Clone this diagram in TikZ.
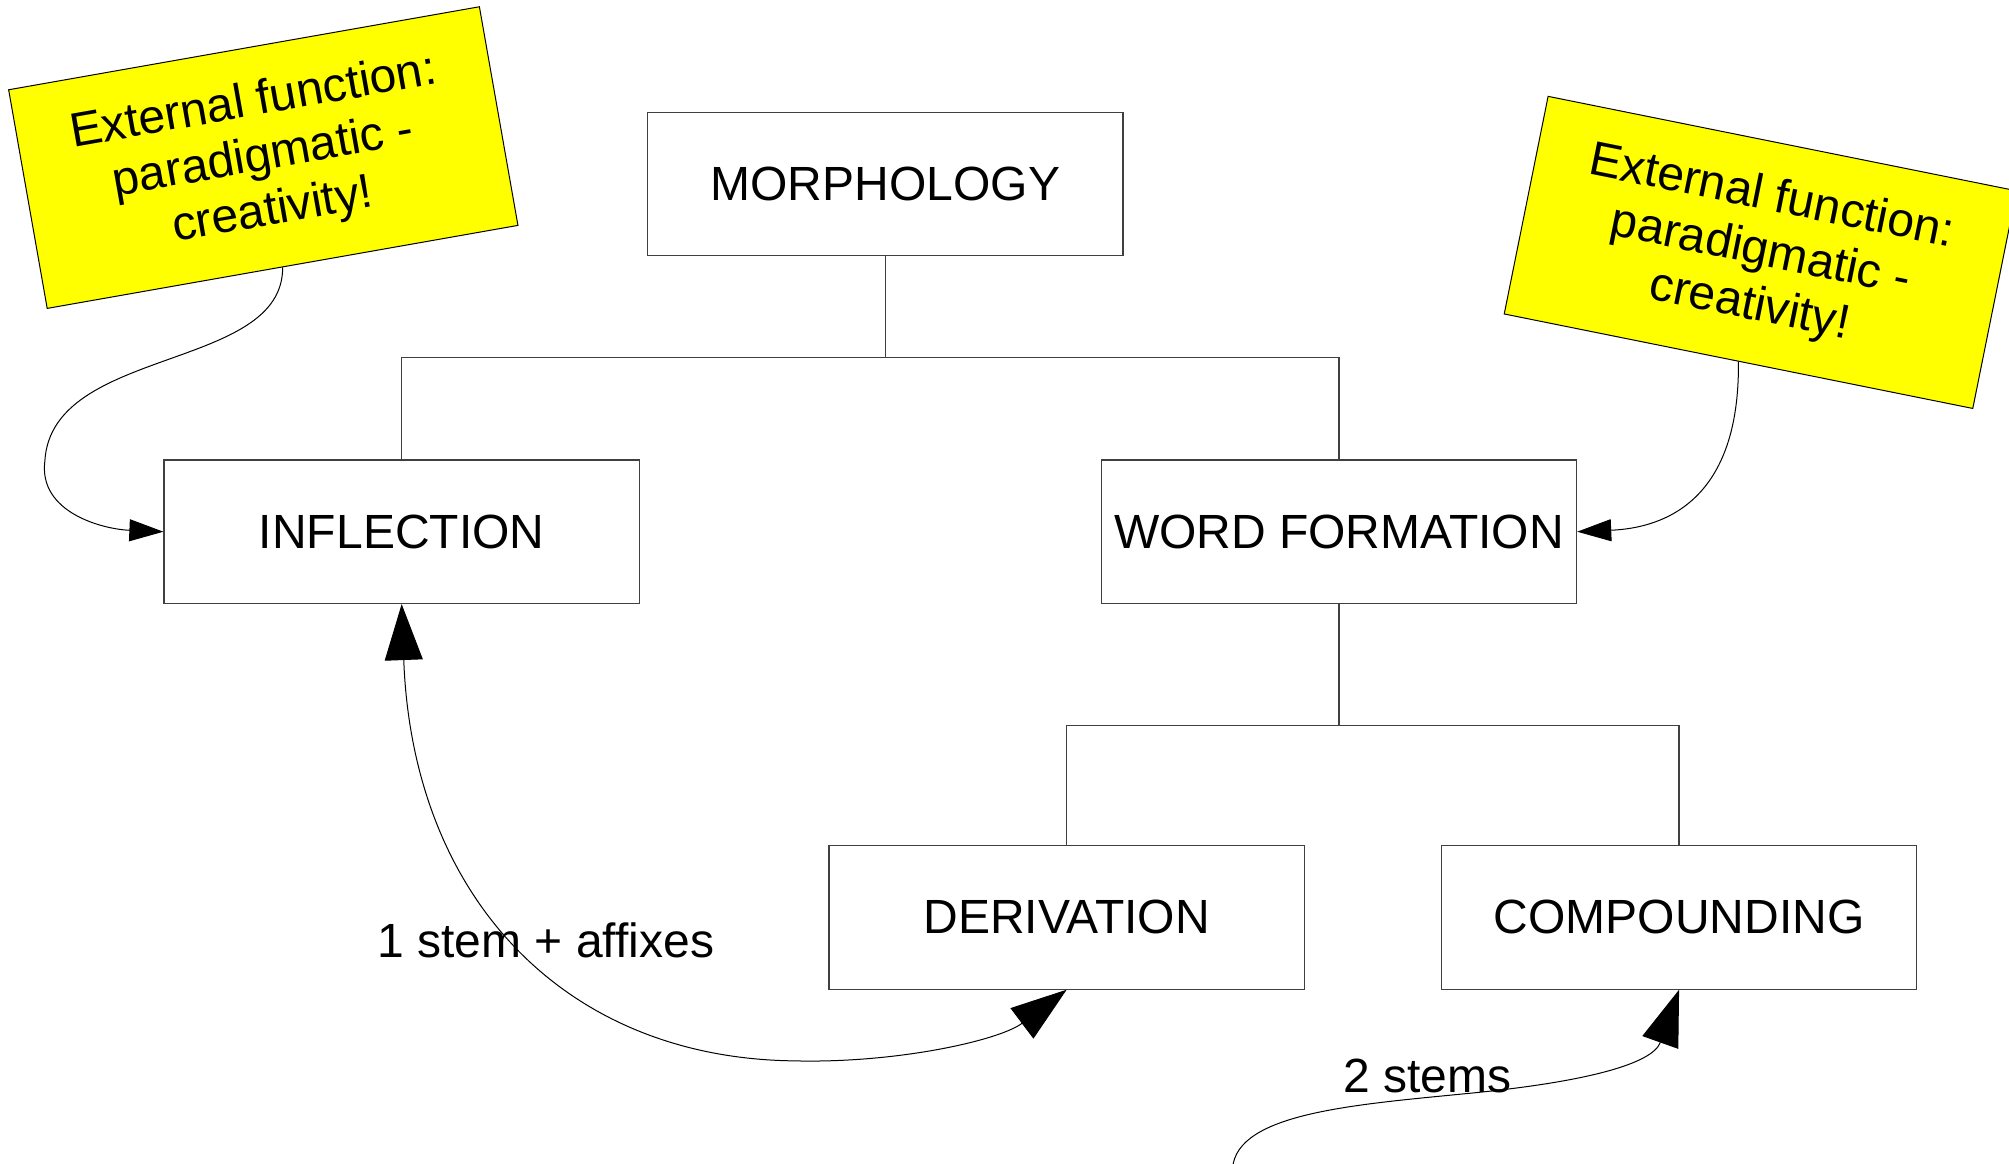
\documentclass[tikz,border=0pt]{standalone}
\usepackage{fontspec}
\setmainfont{Liberation Sans}
\usetikzlibrary{arrows.meta}
\definecolor{noteyellow}{RGB}{255,255,0}
\begin{document}
\begin{tikzpicture}[x=0.640625pt,y=-0.640625pt,
  txt/.style={font=\fontsize{24}{27.6}\selectfont, inner sep=0pt, align=center},
  cat/.style={txt, draw=black!75, line width=0.6pt, fill=white, minimum width=237.7pt, minimum height=71.75pt},
  note/.style={txt, draw=black, line width=0.5pt, fill=noteyellow, minimum width=239pt, minimum height=111pt},
  link/.style={draw=black, line width=0.5pt},
  tree/.style={draw=black!75, line width=0.6pt},
  smallhead/.style={-{Triangle[length=17pt,width=11pt]}},
  bighead/.style={-{Triangle[length=28pt,width=19pt]}},
  bothbig/.style={{Triangle[length=28pt,width=19pt]}-{Triangle[length=28pt,width=19pt]}}
]
\fill[white] (0,0) rectangle (1568,908);
\useasboundingbox (0,0) rectangle (1568,908);

% category boxes
\node[cat] (morph) at (691,143.5) {MORPHOLOGY};
\node[cat] (infl) at (313.5,415) {INFLECTION};
\node[cat] (wf) at (1045,415) {WORD FORMATION};
\node[cat] (der) at (832.5,716) {DERIVATION};
\node[cat] (comp) at (1310.5,716) {COMPOUNDING};

% tree connectors
\coordinate (j1) at (691,279);
\coordinate (j2) at (1045,566);
\draw[tree] (morph.south) -- (j1);
\draw[tree] (infl.north) |- (j1) -| (wf.north);
\draw[tree] (wf.south) -- (j2);
\draw[tree] (der.north) |- (j2) -| (comp.north);

% yellow notes
\node[note, rotate=10] (yl) at (205.5,123) {External function:\\paradigmatic -\\creativity!};
\node[note, rotate=-11.4] (yr) at (1374,197) {External function:\\paradigmatic -\\creativity!};

% note connectors
\draw[link, smallhead] (yl.south) .. controls (221,290) and (40,270) .. (35,360)
  .. controls (30,400) and (80,413) .. (infl.west);
\draw[link, smallhead] (yr.south) .. controls (1358,390) and (1300,412) .. (wf.east);

% derivation arc
\draw[link, bothbig] (infl.south) .. controls (322,700) and (440,826) .. (620,828)
  .. controls (700,830) and (780,812) .. (der.south);
\node[txt] (lab1) at (426,734) {1 stem + affixes};

% compounding arc
\coordinate (s2) at (962,912);
\draw[link, bighead] (s2) .. controls (965,868) and (1060,862) .. (1150,853)
  .. controls (1240,844) and (1290,830) .. (comp.south);
\node[txt] (lab2) at (1114,840) {2 stems};
\end{tikzpicture}
\end{document}
